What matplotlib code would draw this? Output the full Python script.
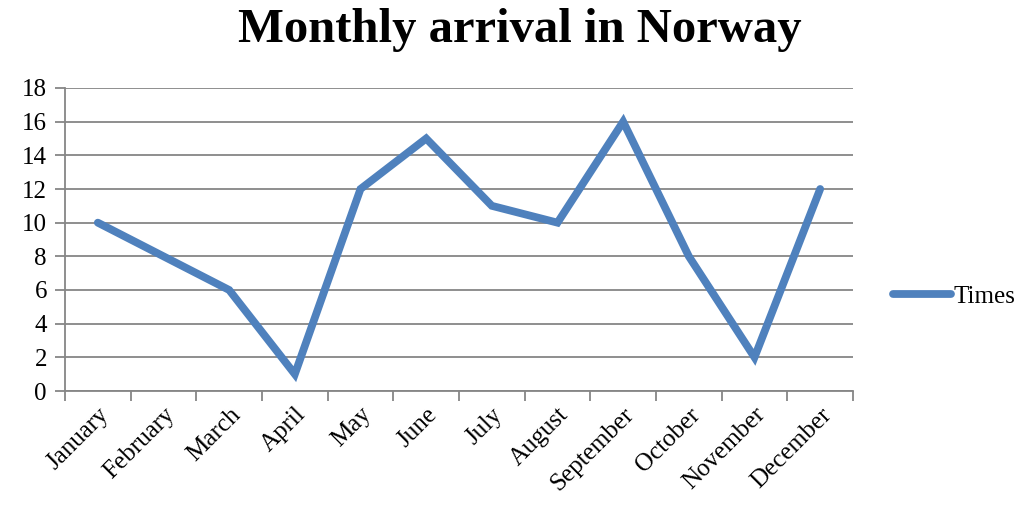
import numpy as np
import matplotlib.pyplot as plt

# data
months = ["January", "February", "March", "April", "May", "June",
          "July", "August", "September", "October", "November", "December"]
times = [10, 8, 6, 1, 12, 15, 11, 10, 16, 8, 2, 12]

plt.rcParams['font.family'] = ['Liberation Serif', 'DejaVu Serif']

fig = plt.figure(figsize=(10.23, 5.12), dpi=100)
ax = fig.add_axes([65 / 1023, 1 - 391 / 512, (853 - 65) / 1023, (391 - 88) / 512])

x = np.arange(len(months))
ax.plot(x, times, color='#4F81BD', linewidth=5.6, solid_joinstyle='miter',
        solid_capstyle='round', label='Times')

ax.set_xlim(-0.5, len(months) - 0.5)
ax.set_ylim(0, 18)
ax.set_yticks(range(0, 19, 2))
ax.set_xticks(x)
ax.set_xticklabels(months, rotation=45, ha='right', rotation_mode='anchor')
ax.set_xticks(np.arange(-0.5, len(months)), minor=True)

grid_col = '#868686'
ax.yaxis.grid(True, color=grid_col, linewidth=1.3)
ax.set_axisbelow(True)
for s in ['top', 'right']:
    ax.spines[s].set_visible(False)
for s in ['left', 'bottom']:
    ax.spines[s].set_color(grid_col)
    ax.spines[s].set_linewidth(1.3)

ax.tick_params(axis='x', which='major', length=0, pad=9, labelsize=18)
ax.tick_params(axis='x', which='minor', length=7, color=grid_col, width=1.3)
ax.tick_params(axis='y', length=7, color=grid_col, width=1.3, labelsize=18, pad=6)

fig.text(0.508, 0.942, "Monthly arrival in Norway", ha='center', va='center',
         fontsize=35, fontweight='bold')

fig.legend(loc='center left', bbox_to_anchor=(0.851, 0.42), frameon=False,
           fontsize=18, handlelength=2.3, handletextpad=0.1)

fig.savefig('out.png', dpi=100)
